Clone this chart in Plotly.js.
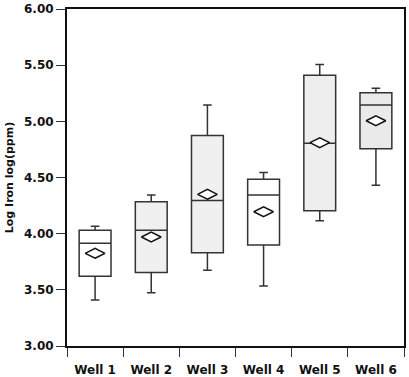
<!DOCTYPE html>
<html>
<head>
<meta charset="utf-8">
<script src="https://cdn.plot.ly/plotly-3.0.1.min.js"></script>
<style>html,body{margin:0;padding:0;background:#fff;}#chart{width:409px;height:377px;}</style>
</head>
<body>
<div id="chart"></div>
<script>
var wells = ["Well 1", "Well 2", "Well 3", "Well 4", "Well 5", "Well 6"];
var lowerWhisker = [3.41, 3.475, 3.675, 3.535, 4.115, 4.43];
var q1Values = [3.62, 3.655, 3.83, 3.90, 4.205, 4.755];
var medianValues = [3.915, 4.03, 4.295, 4.345, 4.805, 5.145];
var q3Values = [4.03, 4.285, 4.875, 4.485, 5.41, 5.255];
var upperWhisker = [4.065, 4.345, 5.145, 4.545, 5.505, 5.295];
var meanValues = [3.825, 3.97, 4.35, 4.195, 4.81, 5.005];
var boxFills = ["#ffffff", "#f0f0f0", "#f0f0f0", "#ffffff", "#eeeeee", "#eaeaea"];
var yTickVals = [3.0, 3.5, 4.0, 4.5, 5.0, 5.5, 6.0];
var yTickText = ["3.00", "3.50", "4.00", "4.50", "5.00", "5.50", "6.00"];

var traces = wells.map(function (w, i) {
  return {
    type: "box",
    x: [w],
    q1: [q1Values[i]],
    median: [medianValues[i]],
    q3: [q3Values[i]],
    lowerfence: [lowerWhisker[i]],
    upperfence: [upperWhisker[i]],
    fillcolor: boxFills[i],
    line: { color: "#333333", width: 1.5 },
    whiskerwidth: 0.27,
    boxpoints: false,
    showlegend: false,
    hoverinfo: "skip"
  };
});

traces.push({
  type: "scatter",
  mode: "markers",
  x: wells,
  y: meanValues,
  marker: { symbol: "diamond-wide", size: 14, color: "#ffffff", line: { color: "#111111", width: 1.5 } },
  showlegend: false,
  hoverinfo: "skip"
});

var layout = {
  width: 409,
  height: 377,
  margin: { l: 67, r: 5, t: 9, b: 31 },
  paper_bgcolor: "#ffffff",
  plot_bgcolor: "#ffffff",
  boxmode: "overlay",
  boxgap: 0.19,
  font: { family: "DejaVu Sans", size: 12, color: "#111111" },
  xaxis: {
    type: "category",
    categoryorder: "array",
    categoryarray: wells,
    tickson: "boundaries",
    ticks: "outside",
    ticklen: 9,
    tickwidth: 1,
    tickcolor: "#333333",
    showline: true,
    linecolor: "#111111",
    linewidth: 2,
    mirror: true,
    showgrid: false,
    tickfont: { family: "DejaVu Sans", size: 12, weight: "bold", color: "#111111" },
    ticklabelstandoff: 12
  },
  yaxis: {
    range: [3.0, 6.0],
    tickvals: yTickVals,
    ticktext: yTickText,
    ticks: "outside",
    ticklen: 9,
    tickwidth: 1,
    tickcolor: "#333333",
    showline: true,
    linecolor: "#111111",
    linewidth: 2,
    mirror: true,
    showgrid: false,
    zeroline: false,
    tickfont: { family: "DejaVu Sans", size: 12, weight: "bold", color: "#111111" },
    title: { text: "Log Iron log(ppm)", font: { family: "DejaVu Sans", size: 11, weight: "bold", color: "#111111" }, standoff: 8 }
  }
};

Plotly.newPlot("chart", traces, layout, { displayModeBar: false, staticPlot: true });
</script>
</body>
</html>
